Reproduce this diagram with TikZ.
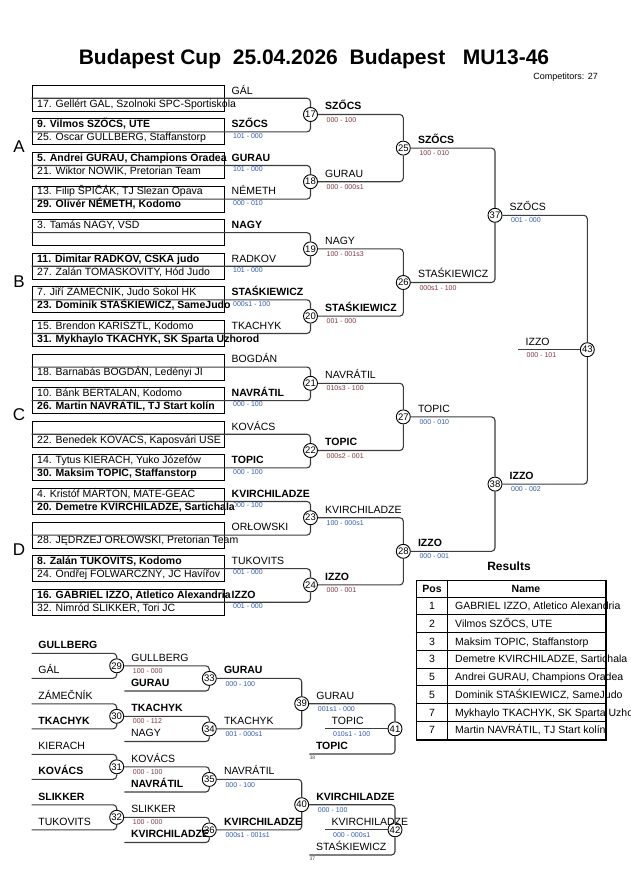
\documentclass[tikz,border=0pt]{standalone}
\usepackage{fontspec}
\setmainfont{Liberation Sans}
\usetikzlibrary{calc}
\definecolor{ln}{RGB}{60,60,60}
\definecolor{scb}{RGB}{50,90,175}
\definecolor{scr}{RGB}{125,55,65}
\tikzset{
 entry/.style={draw=black, line width=1.1pt, minimum width=192.3pt, minimum height=26pt, anchor=north west, inner sep=0pt},
 nm/.style={anchor=base west, inner sep=0pt, font=\fontsize{10.5}{12}\selectfont},
 sc/.style={anchor=base west, inner sep=0pt, font=\fontsize{7}{8}\selectfont, text=scb},
 scR/.style={sc, text=scr},
 tnum/.style={anchor=base west, inner sep=0pt, font=\fontsize{5}{6}\selectfont, text=black!70},
 mnum/.style={circle, draw=black, line width=0.9pt, fill=white, minimum size=14pt, inner sep=0pt, font=\fontsize{9.5}{10}\selectfont},
 br/.style={draw=ln, line width=1.1pt, rounded corners=3.5pt},
}
\newcommand\Entry[6]{%
 \pgfmathsetmacro\Ty{84.7+33.6*(#1-1)}%
 \node[nm] (e#1l) at (231.5,\Ty+9.3) {#4};
 \node[sc] (e#1s) at (233,\Ty+19.8) {#5};
 \node[nm] (e#1t) at (37,\Ty+9.3) {#2};
 \node[nm,#6] (e#1b) at (37,\Ty+22.3) {#3};
 \node[entry] (e#1) at (31.7,\Ty) {};
}
\newcommand\Res[4]{%
 \node[nm] (#1l) at ($(#1)+(14.5,-4.6)$) {#2};
 \node[#4] (#1s) at ($(#1)+(16,7.6)$) {#3};
}
\newcommand\Inp[2]{%
 \node[nm] (#1l) at ($(#1)+(6.5,-4.6)$) {#2};
}
\begin{document}
\begin{tikzpicture}[x=1pt,y=-1pt]
\useasboundingbox (0,0) rectangle (630,891);
\fill[white] (0,0) rectangle (630,891);

% title
\node[anchor=base, inner sep=0pt, font=\fontsize{21}{24}\selectfont\bfseries] (title) at (314,65) {Budapest Cup\ \ 25.04.2026\ \ Budapest\ \ \ MU13-46};
\node[anchor=base east, inner sep=0pt, font=\fontsize{9}{10}\selectfont] (comp) at (598,79) {Competitors: 27};

% pool letters
\node[inner sep=0pt, font=\fontsize{17}{18}\selectfont] (secA) at (19,146.7) {A};
\node[inner sep=0pt, font=\fontsize{17}{18}\selectfont] (secB) at (19,281.3) {B};
\node[inner sep=0pt, font=\fontsize{17}{18}\selectfont] (secC) at (19,415) {C};
\node[inner sep=0pt, font=\fontsize{17}{18}\selectfont] (secD) at (19,549.7) {D};

% first column
\Entry{1}{}{17. Gellért GÁL, Szolnoki SPC-Sportiskola}{GÁL}{}{}
\Entry{2}{\bfseries 9. Vilmos SZŐCS, UTE}{25. Oscar GULLBERG, Staffanstorp}{\bfseries SZŐCS}{101 - 000}{}
\Entry{3}{\bfseries 5. Andrei GURAU, Champions Oradea}{21. Wiktor NOWIK, Pretorian Team}{\bfseries GURAU}{101 - 000}{}
\Entry{4}{13. Filip ŠPIČÁK, TJ Slezan Opava}{\bfseries 29. Olivér NÉMETH, Kodomo}{NÉMETH}{000 - 010}{}
\Entry{5}{3. Tamás NAGY, VSD}{}{\bfseries NAGY}{}{}
\Entry{6}{\bfseries 11. Dimitar RADKOV, CSKA judo}{27. Zalán TOMASKOVITY, Hód Judo}{RADKOV}{101 - 000}{}
\Entry{7}{7. Jiří ZÁMEČNÍK, Judo Sokol HK}{\bfseries 23. Dominik STAŚKIEWICZ, SameJudo}{\bfseries STAŚKIEWICZ}{000s1 - 100}{fill=white}
\Entry{8}{15. Brendon KARISZTL, Kodomo}{\bfseries 31. Mykhaylo TKACHYK, SK Sparta Uzhorod}{TKACHYK}{}{}
\Entry{9}{}{18. Barnabás BOGDÁN, Ledényi JI}{BOGDÁN}{}{}
\Entry{10}{10. Bánk BERTALAN, Kodomo}{\bfseries 26. Martin NAVRÁTIL, TJ Start kolín}{\bfseries NAVRÁTIL}{000 - 100}{}
\Entry{11}{}{22. Benedek KOVÁCS, Kaposvári USE}{KOVÁCS}{}{}
\Entry{12}{14. Tytus KIERACH, Yuko Józefów}{\bfseries 30. Maksim TOPIC, Staffanstorp}{\bfseries TOPIC}{000 - 100}{}
\Entry{13}{4. Kristóf MÁRTON, MATE-GEAC}{\bfseries 20. Demetre KVIRCHILADZE, Sartichala}{\bfseries KVIRCHILADZE}{000 - 100}{fill=white}
\Entry{14}{}{28. JĘDRZEJ ORŁOWSKI, Pretorian Team}{ORŁOWSKI}{}{}
\Entry{15}{\bfseries 8. Zalán TUKOVITS, Kodomo}{24. Ondřej FOLWARCZNÝ, JC Havířov}{TUKOVITS}{001 - 000}{}
\Entry{16}{\bfseries 16. GABRIEL IZZO, Atletico Alexandria}{32. Nimród SLIKKER, Tori JC}{\bfseries IZZO}{001 - 000}{}

% match circles, main draw
\foreach \n/\x/\y in {17/310.5/114.5, 18/310.5/181.7, 19/310.5/248.9, 20/310.5/316.1,
  21/310.5/383.3, 22/310.5/450.5, 23/310.5/517.7, 24/310.5/584.9,
  25/403.3/148.1, 26/403.3/282.5, 27/403.3/416.9, 28/403.3/551.3,
  37/495/215.3, 38/495/484.1, 43/587.3/349.7}
  \node[mnum] (c\n) at (\x,\y) {\n};

\foreach \a/\b/\c in {1/2/17, 3/4/18, 5/6/19, 7/8/20, 9/10/21, 11/12/22, 13/14/23, 15/16/24} {
  \draw[br] (e\a.west) -| (c\c.north);
  \draw[br] (e\b.west) -| (c\c.south);
}
\foreach \a/\b/\c in {17/18/25, 19/20/26, 21/22/27, 23/24/28, 25/26/37, 27/28/38, 37/38/43} {
  \draw[br] (c\a.east) -| (c\c.north);
  \draw[br] (c\b.east) -| (c\c.south);
}
\coordinate (f43) at (518,349.7);
\draw[br] (f43) -- (c43.west);
\node[nm] (f43l) at (525.5,345.1) {IZZO};
\node[scR] (f43s) at (526.5,357.3) {000 - 101};

\Res{c17}{\bfseries SZŐCS}{000 - 100}{scR}
\Res{c18}{GURAU}{000 - 000s1}{scR}
\Res{c19}{NAGY}{100 - 001s3}{scR}
\Res{c20}{\bfseries STAŚKIEWICZ}{001 - 000}{scR}
\Res{c21}{NAVRÁTIL}{010s3 - 100}{scR}
\Res{c22}{\bfseries TOPIC}{000s2 - 001}{scR}
\Res{c23}{KVIRCHILADZE}{100 - 000s1}{sc}
\Res{c24}{\bfseries IZZO}{000 - 001}{scR}
\Res{c25}{\bfseries SZŐCS}{100 - 010}{scR}
\Res{c26}{STAŚKIEWICZ}{000s1 - 100}{scR}
\Res{c27}{TOPIC}{000 - 010}{sc}
\Res{c28}{\bfseries IZZO}{000 - 001}{sc}
\Res{c37}{SZŐCS}{001 - 000}{sc}
\Res{c38}{\bfseries IZZO}{000 - 002}{sc}

% results table
\node[anchor=base, inner sep=0pt, font=\fontsize{12}{14}\selectfont\bfseries] (restitle) at (509,570) {Results};
\node[nm, anchor=base, font=\fontsize{10.5}{12}\selectfont\bfseries] (hpos) at (432,592) {Pos};
\node[nm, anchor=base, font=\fontsize{10.5}{12}\selectfont\bfseries] (hname) at (526,592) {Name};
\foreach \p/\n [count=\k] in {1/{GABRIEL IZZO, Atletico Alexandria}, 2/{Vilmos SZŐCS, UTE},
  3/{Maksim TOPIC, Staffanstorp}, 3/{Demetre KVIRCHILADZE, Sartichala},
  5/{Andrei GURAU, Champions Oradea}, 5/{Dominik STAŚKIEWICZ, SameJudo},
  7/{Mykhaylo TKACHYK, SK Sparta Uzhorod}, 7/{Martin NAVRÁTIL, TJ Start kolín}} {
  \node[nm, anchor=base] (rp\k) at (432,{597+17.75*\k-8.875+3.7}) {\p};
  \node[nm] (rn\k) at (455,{597+17.75*\k-8.875+3.7}) {\n};
}
\foreach \yy in {597,614.75,632.5,650.25,668,685.75,703.5,721.25}
  \draw[line width=1pt] (415.5,\yy) -- (605,\yy);
\draw[line width=1pt] (447.3,579.5) -- (447.3,739);
\node[draw, line width=1.8pt, minimum width=189.5pt, minimum height=159.5pt, anchor=north west, inner sep=0pt] (tab) at (415.5,579.5) {};

% repechage
\foreach \n/\x/\y in {29/116.7/665.8, 30/116.7/716.3, 31/116.7/766.8, 32/116.7/817.3,
  33/209.3/678.4, 34/209.3/728.9, 35/209.3/779.4, 36/209.3/829.9,
  39/301.7/703.7, 40/301.7/804.7, 41/395/728.8, 42/395/829.8}
  \node[mnum] (c\n) at (\x,\y) {\n};

\coordinate (r29a) at (31.7,653.3);  \coordinate (r29b) at (31.7,678.3);
\coordinate (r30a) at (31.7,703.8);  \coordinate (r30b) at (31.7,728.8);
\coordinate (r31a) at (31.7,754.3);  \coordinate (r31b) at (31.7,779.3);
\coordinate (r32a) at (31.7,804.8);  \coordinate (r32b) at (31.7,829.8);
\coordinate (r33b) at (124.3,691.0); \coordinate (r34b) at (124.3,741.5);
\coordinate (r35b) at (124.3,792.0); \coordinate (r36b) at (124.3,842.5);
\coordinate (r41b) at (309.3,754.0); \coordinate (r42b) at (309.3,855.0);
\coordinate (r41l) at (325,728.8);   \coordinate (r42l) at (325,829.8);

\foreach \c in {29,30,31,32} {
  \draw[br] (r\c a) -| (c\c.north);
  \draw[br] (r\c b) -| (c\c.south);
}
\foreach \a/\c in {29/33, 30/34, 31/35, 32/36, 39/41, 40/42} {
  \draw[br] (c\a.east) -| (c\c.north);
  \draw[br] (r\c b) -| (c\c.south);
}
\foreach \a/\b/\c in {33/34/39, 35/36/40} {
  \draw[br] (c\a.east) -| (c\c.north);
  \draw[br] (c\b.east) -| (c\c.south);
}
\draw[br] (r41l) -- (c41.west);
\draw[br] (r42l) -- (c42.west);

\Inp{r29a}{\bfseries GULLBERG} \Inp{r29b}{GÁL}
\Inp{r30a}{ZÁMEČNÍK} \Inp{r30b}{\bfseries TKACHYK}
\Inp{r31a}{KIERACH} \Inp{r31b}{\bfseries KOVÁCS}
\Inp{r32a}{\bfseries SLIKKER} \Inp{r32b}{TUKOVITS}
\Inp{r33b}{\bfseries GURAU}
\Inp{r34b}{NAGY}
\Inp{r35b}{\bfseries NAVRÁTIL}
\Inp{r36b}{\bfseries KVIRCHILADZE}
\Inp{r41b}{\bfseries TOPIC}
\Inp{r42b}{STAŚKIEWICZ}
\Inp{r41l}{TOPIC}
\Inp{r42l}{KVIRCHILADZE}
\node[sc] (r41ls) at ($(r41l)+(8,7.6)$) {010s1 - 100};
\node[sc] (r42ls) at ($(r42l)+(8,7.6)$) {000 - 000s1};
\node[tnum] (t38) at (309.5,759.5) {38};
\node[tnum] (t37) at (309.5,860.5) {37};

\Res{c29}{GULLBERG}{100 - 000}{scR}
\Res{c30}{\bfseries TKACHYK}{000 - 112}{scR}
\Res{c31}{KOVÁCS}{000 - 100}{scR}
\Res{c32}{SLIKKER}{100 - 000}{scR}
\Res{c33}{\bfseries GURAU}{000 - 100}{sc}
\Res{c34}{TKACHYK}{001 - 000s1}{sc}
\Res{c35}{NAVRÁTIL}{000 - 100}{sc}
\Res{c36}{\bfseries KVIRCHILADZE}{000s1 - 001s1}{sc}
\Res{c39}{GURAU}{001s1 - 000}{sc}
\Res{c40}{\bfseries KVIRCHILADZE}{000 - 100}{sc}
\end{tikzpicture}
\end{document}
